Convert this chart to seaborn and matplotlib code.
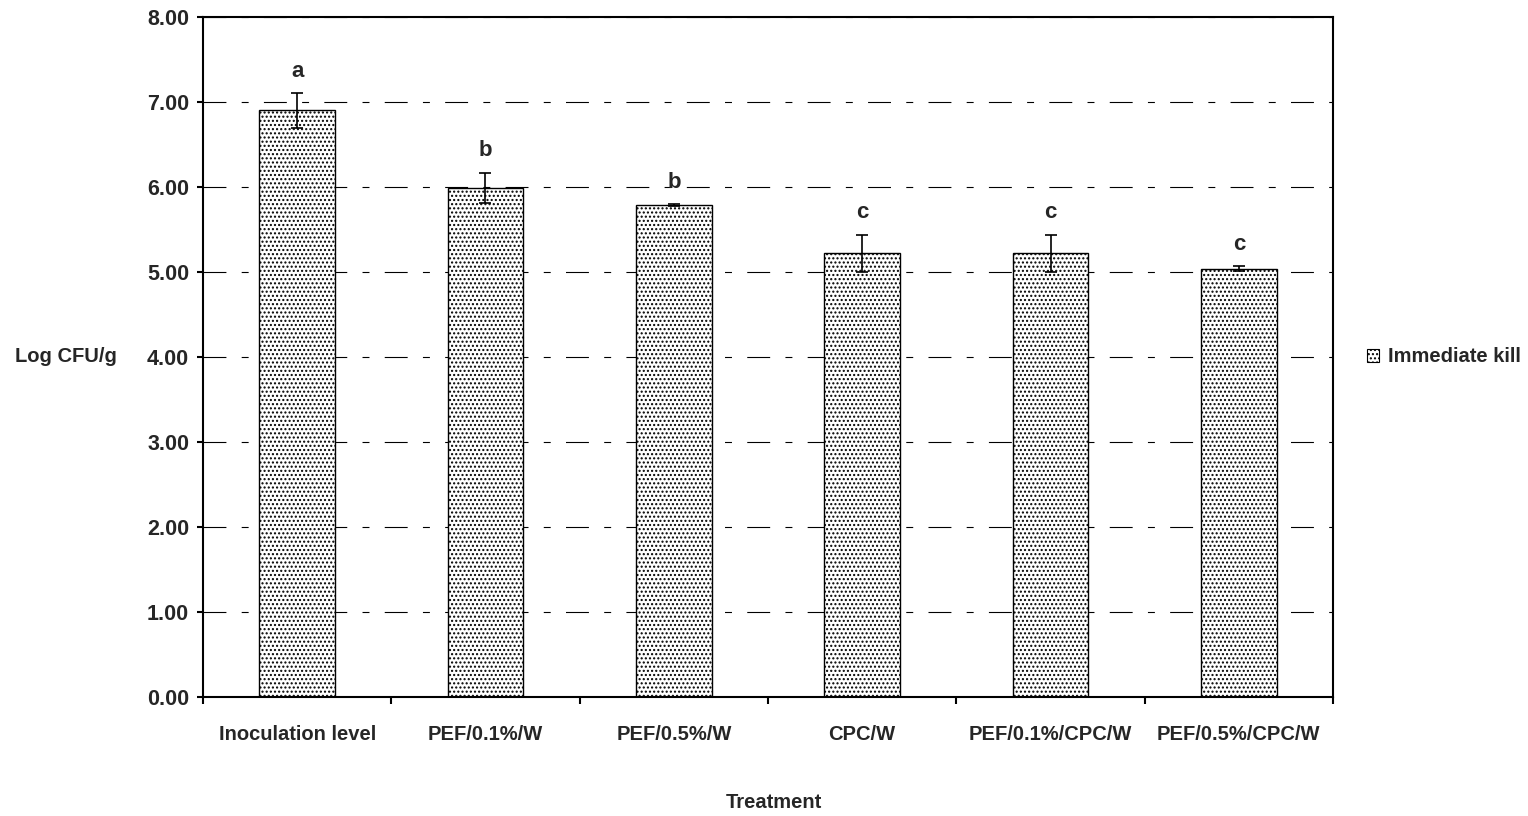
import numpy as np
import pandas as pd
import matplotlib
matplotlib.use("Agg")
import matplotlib.pyplot as plt
import matplotlib.patches as mpatches
from matplotlib.ticker import FixedLocator, FormatStrFormatter
import seaborn as sns

# ---- data ----
treatments = ["Inoculation level", "PEF/0.1%/W", "PEF/0.5%/W", "CPC/W",
              "PEF/0.1%/CPC/W", "PEF/0.5%/CPC/W"]
log_cfu = [6.90, 5.99, 5.79, 5.22, 5.22, 5.04]
errors = [0.21, 0.18, 0.01, 0.22, 0.22, 0.03]
letters = ["a", "b", "b", "c", "c", "c"]
series_name = "Immediate kill"
y_ticks = [0, 1, 2, 3, 4, 5, 6, 7, 8]

df = pd.DataFrame({"Treatment": treatments, "Log CFU/g": log_cfu})

sns.set_style("white")
plt.rcParams["font.family"] = ["Liberation Sans", "DejaVu Sans"]
plt.rcParams["font.weight"] = "bold"
plt.rcParams["hatch.color"] = "black"
plt.rcParams["hatch.linewidth"] = 1.0
plt.rcParams["lines.scale_dashes"] = False

fig = plt.figure(figsize=(15.28, 8.16), dpi=100)
ax = fig.add_axes([203 / 1528, 119 / 816, 1130 / 1528, 680 / 816])

sns.barplot(data=df, x="Treatment", y="Log CFU/g", color="white",
            edgecolor="black", linewidth=1.0, width=0.4, hatch="....",
            errorbar=None, saturation=1, ax=ax)
for p in ax.patches:
    p.set_facecolor("white")

xpos = np.arange(len(treatments))
ax.errorbar(xpos, log_cfu, yerr=errors, fmt="none", ecolor="black",
            elinewidth=1.2, capsize=4, capthick=1.2, zorder=5)

for i, (v, e, l) in enumerate(zip(log_cfu, errors, letters)):
    ax.annotate(l, xy=(i, v + e), xytext=(0, 8), textcoords="offset points",
                ha="center", va="bottom", fontsize=16, fontweight="bold")

ax.set_xlim(-0.5, len(treatments) - 0.5)
ax.set_ylim(0, 8)
ax.yaxis.set_major_locator(FixedLocator(y_ticks))
ax.yaxis.set_major_formatter(FormatStrFormatter("%.2f"))
ax.set_axisbelow(True)
ax.yaxis.grid(True, color="black", linewidth=0.8,
              linestyle=(0, (16.5, 11, 5, 11)))
ax.xaxis.grid(False)

ax.xaxis.set_minor_locator(FixedLocator(np.arange(-0.5, len(treatments), 1.0)))
ax.tick_params(axis="x", which="major", length=0, pad=20, labelsize=14.5)
ax.tick_params(axis="x", which="minor", length=5, width=1.5, color="black",
               direction="out", bottom=True)
ax.tick_params(axis="y", which="major", length=4, width=1.5, color="black",
               direction="out", left=True, pad=6, labelsize=15.5)
for lab in ax.get_xticklabels() + ax.get_yticklabels():
    lab.set_fontweight("bold")

for s in ax.spines.values():
    s.set_visible(True)
    s.set_color("black")
    s.set_linewidth(1.5)

ax.set_xlabel("")
ax.set_ylabel("")
fig.text(66 / 1528, 1 - 357 / 816, "Log CFU/g", ha="center", va="center",
         fontsize=14.5, fontweight="bold")
fig.text(774 / 1528, 1 - 803 / 816, "Treatment", ha="center", va="center",
         fontsize=14.5, fontweight="bold")

handle = mpatches.Patch(facecolor="white", edgecolor="black", hatch="....",
                        linewidth=0.8, label=series_name)
fig.legend(handles=[handle], loc="center left",
           bbox_to_anchor=(1367 / 1528, 1 - 357 / 816), frameon=False,
           handlelength=0.6, handleheight=0.6, handletextpad=0.45,
           borderaxespad=0, borderpad=0,
           prop={"size": 14.5, "weight": "bold"})

fig.savefig("out.png", dpi=100)
